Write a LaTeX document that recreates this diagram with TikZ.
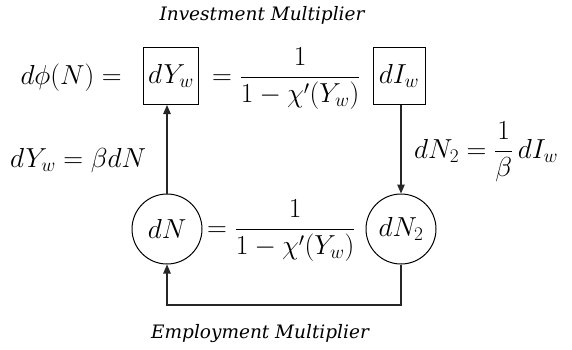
\RequirePackage{fix-cm}
\documentclass[tikz,border=0pt]{standalone}
\usepackage{amsmath}
\usepackage{fontspec}
\newfontfamily\labfont{DejaVu Serif}
\usetikzlibrary{arrows.meta}
\begin{document}
\begin{tikzpicture}[x=1pt,y=-1pt,
  every node/.style={font=\fontsize{27.5}{32}\selectfont, inner sep=0pt},
  boxnode/.style={draw, line width=1pt, minimum height=57pt},
  circnode/.style={draw, circle, line width=1pt, minimum size=70pt},
  lab/.style={font=\labfont\itshape\fontsize{18.5}{22}\selectfont},
  conn/.style={line width=1.1pt, draw=black!85},
  arr/.style={conn, -{Triangle[length=9pt,width=7.5pt]}}]
\useasboundingbox (0,0) rectangle (572,349);
\node[lab] (inv) at (262,15) {Investment Multiplier};
\node[anchor=base east] (phi) at (122,84) {$d\phi(N) =$};
\node[boxnode, minimum width=55pt] (dYw) at (171,76) {$dY_w$};
\node[anchor=base west] (frac1) at (212,84) {$=\dfrac{1}{1-\chi'(Y_w)}$};
\node[boxnode, minimum width=52pt] (dIw) at (399,76) {$dI_w$};
\node[circnode] (dN) at (167,229) {$dN$};
\node[circnode] (dN2) at (401,229) {$dN_2$};
\node[anchor=base west] (frac2) at (207,236) {$=\dfrac{1}{1-\chi'(Y_w)}$};
\node[anchor=base west] (lbl) at (10,167) {$dY_w = \beta dN$};
\node[anchor=base west] (rbl) at (414,158) {$dN_2 = \dfrac{1}{\beta}\,dI_w$};
\node[lab] (emp) at (260,334) {Employment Multiplier};
\coordinate (bot) at (401,305);
\draw[arr] (dN.north) -- (dN.north |- dYw.south);
\draw[arr] (dN2.north |- dIw.south) -- (dN2.north);
\draw[arr] (dN2.south) -- (bot) -| (dN.south);
\end{tikzpicture}
\end{document}
